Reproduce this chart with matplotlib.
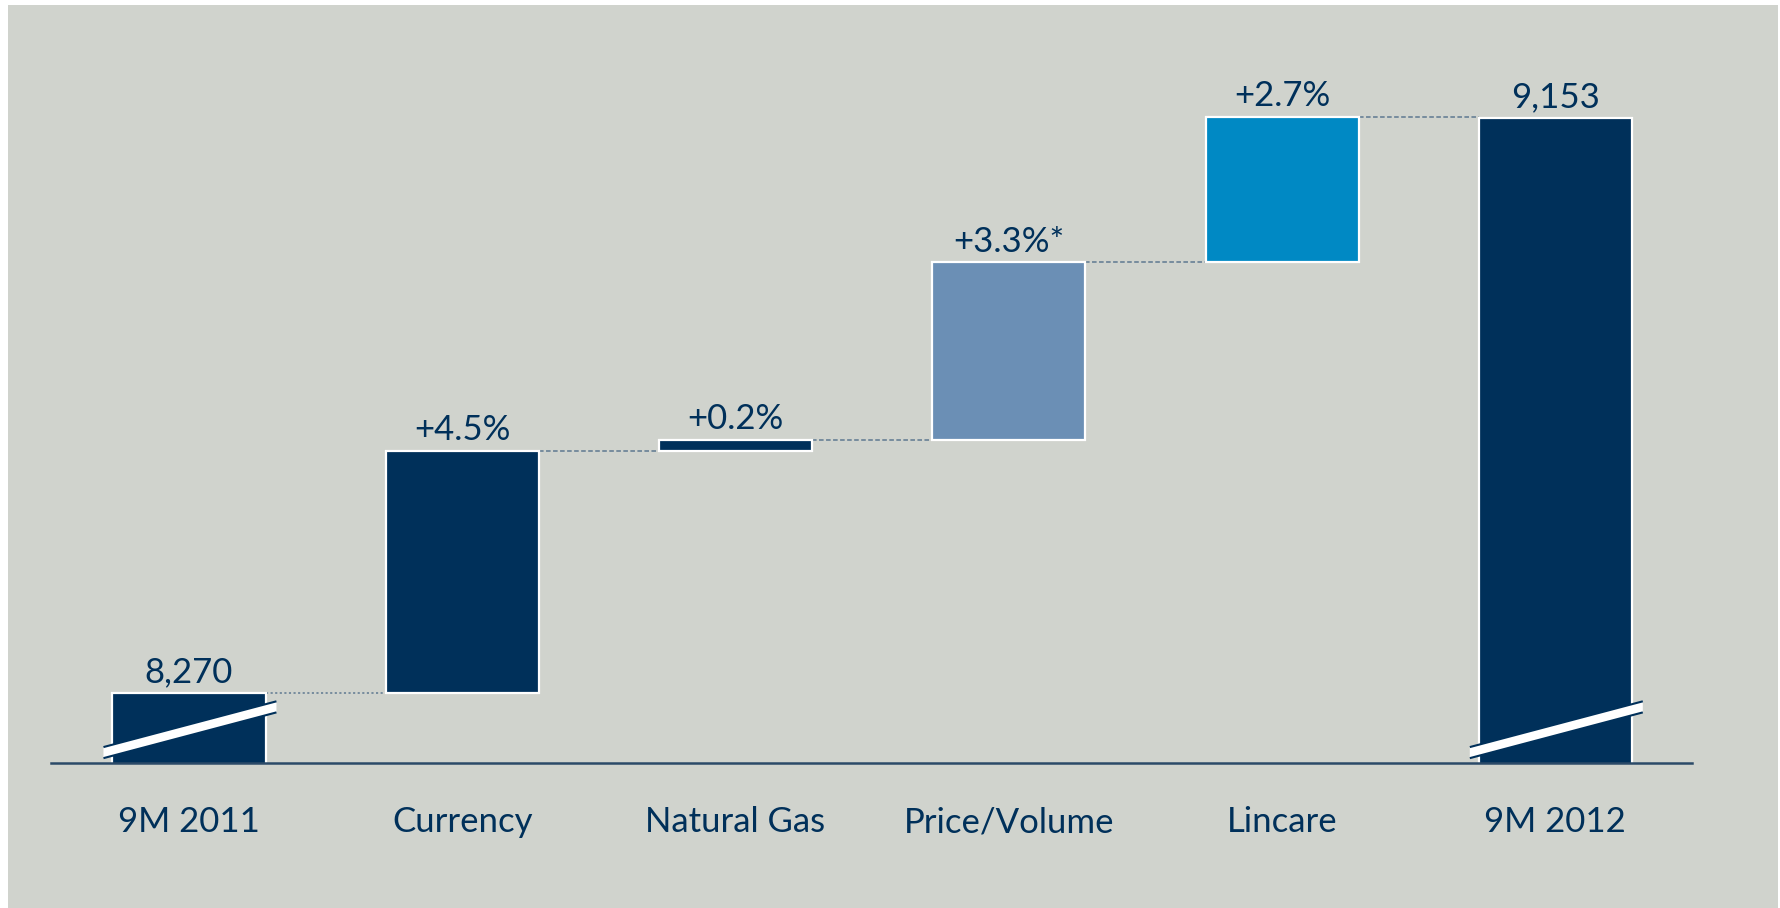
import matplotlib.pyplot as plt
from matplotlib.patches import Rectangle, Polygon
import numpy as np

# Sales bridge 9M 2011 -> 9M 2012 (EUR m)
categories = ["9M 2011", "Currency", "Natural Gas", "Price/Volume", "Lincare", "9M 2012"]
start_value = 8270
end_value = 9153
step_pct = [4.5, 0.2, 3.3, 2.7]
step_labels = ["+4.5%", "+0.2%", "+3.3%*", "+2.7%"]

navy = "#00305A"
steel = "#6B8FB5"
cyan = "#0089C4"
bg = "#D0D3CD"
bar_colors = [navy, navy, navy, steel, cyan, navy]

steps = [start_value * p / 100 for p in step_pct]
levels = np.cumsum([start_value] + steps)      # running totals
bottoms = [0] + list(levels[:-1]) + [0]
tops = [start_value] + list(levels[1:]) + [end_value]
labels = [f"{start_value:,}"] + step_labels + [f"{end_value:,}"]

fig = plt.figure(figsize=(17.8, 9.08), dpi=100)
fig.patch.set_facecolor("white")
fig.patches.append(Rectangle((8 / 1780, 0), 1770 / 1780, 903 / 908,
                             transform=fig.transFigure, facecolor=bg,
                             edgecolor="none", zorder=-1))

ax = fig.add_axes([51 / 1780, 145 / 908, 1641 / 1780, 713 / 908])
ax.set_facecolor("none")

px_per_unit = 0.6512
y_min = start_value - 70 / px_per_unit
y_max = y_min + 713 / px_per_unit
ax.set_ylim(y_min, y_max)
ax.set_xlim(-0.505, 5.50)

x = np.arange(len(categories))
width = 0.56

# bars of the two totals start below the visible range (broken axis)
for i in range(len(categories)):
    b = bottoms[i] if 0 < i < len(categories) - 1 else y_min - 50
    h = tops[i] - b
    ax.bar(x[i], h, width, bottom=b, color=bar_colors[i],
           edgecolor="white", linewidth=1.6, zorder=3)

# connectors between neighbouring bars
for i in range(len(categories) - 1):
    ls = (0, (1.4, 1.6)) if i == 0 else (0, (3, 1.6))
    ax.plot([x[i] + width / 2, x[i + 1] - width / 2], [tops[i], tops[i]],
            color="#5E7890", linewidth=1.1, linestyle=ls, zorder=2)

# value labels
for i in range(len(categories)):
    ax.annotate(labels[i], (x[i], tops[i]), xytext=(0, 7.5),
                textcoords="offset points", ha="center", va="baseline",
                fontsize=25, color=navy, family=["Lato", "DejaVu Sans"])

# category labels
for i, cat in enumerate(categories):
    ax.annotate(cat, (x[i], 0), xycoords=("data", "axes fraction"),
                xytext=(0, -50), textcoords="offset points", ha="center",
                va="baseline", fontsize=25, color=navy,
                family=["Lato", "DejaVu Sans"])

# break marks on the total bars
slope = 111.0
thick = 17.0
yc = y_min + 50.7
for i in (0, len(categories) - 1):
    xl = x[i] - width / 2 - 0.033
    xr = x[i] + width / 2 + 0.040
    cx = x[i]
    yl = yc + slope * (xl - cx)
    yr = yc + slope * (xr - cx)
    band = Polygon([(xl, yl - thick / 2), (xr, yr - thick / 2),
                    (xr, yr + thick / 2), (xl, yl + thick / 2)],
                   closed=True, facecolor="white", edgecolor="none", zorder=4)
    ax.add_patch(band)
    for s in (-1, 1):
        ax.plot([xl, xr], [yl + s * thick / 2, yr + s * thick / 2],
                color=navy, linewidth=1.5, zorder=5, solid_capstyle="butt")

for side in ("top", "right", "left"):
    ax.spines[side].set_visible(False)
ax.spines["bottom"].set_color("#2B4A68")
ax.spines["bottom"].set_linewidth(1.8)
ax.spines["bottom"].set_zorder(6)
ax.set_xticks([])
ax.set_yticks([])

fig.savefig("out.png", dpi=100, facecolor=fig.get_facecolor())
